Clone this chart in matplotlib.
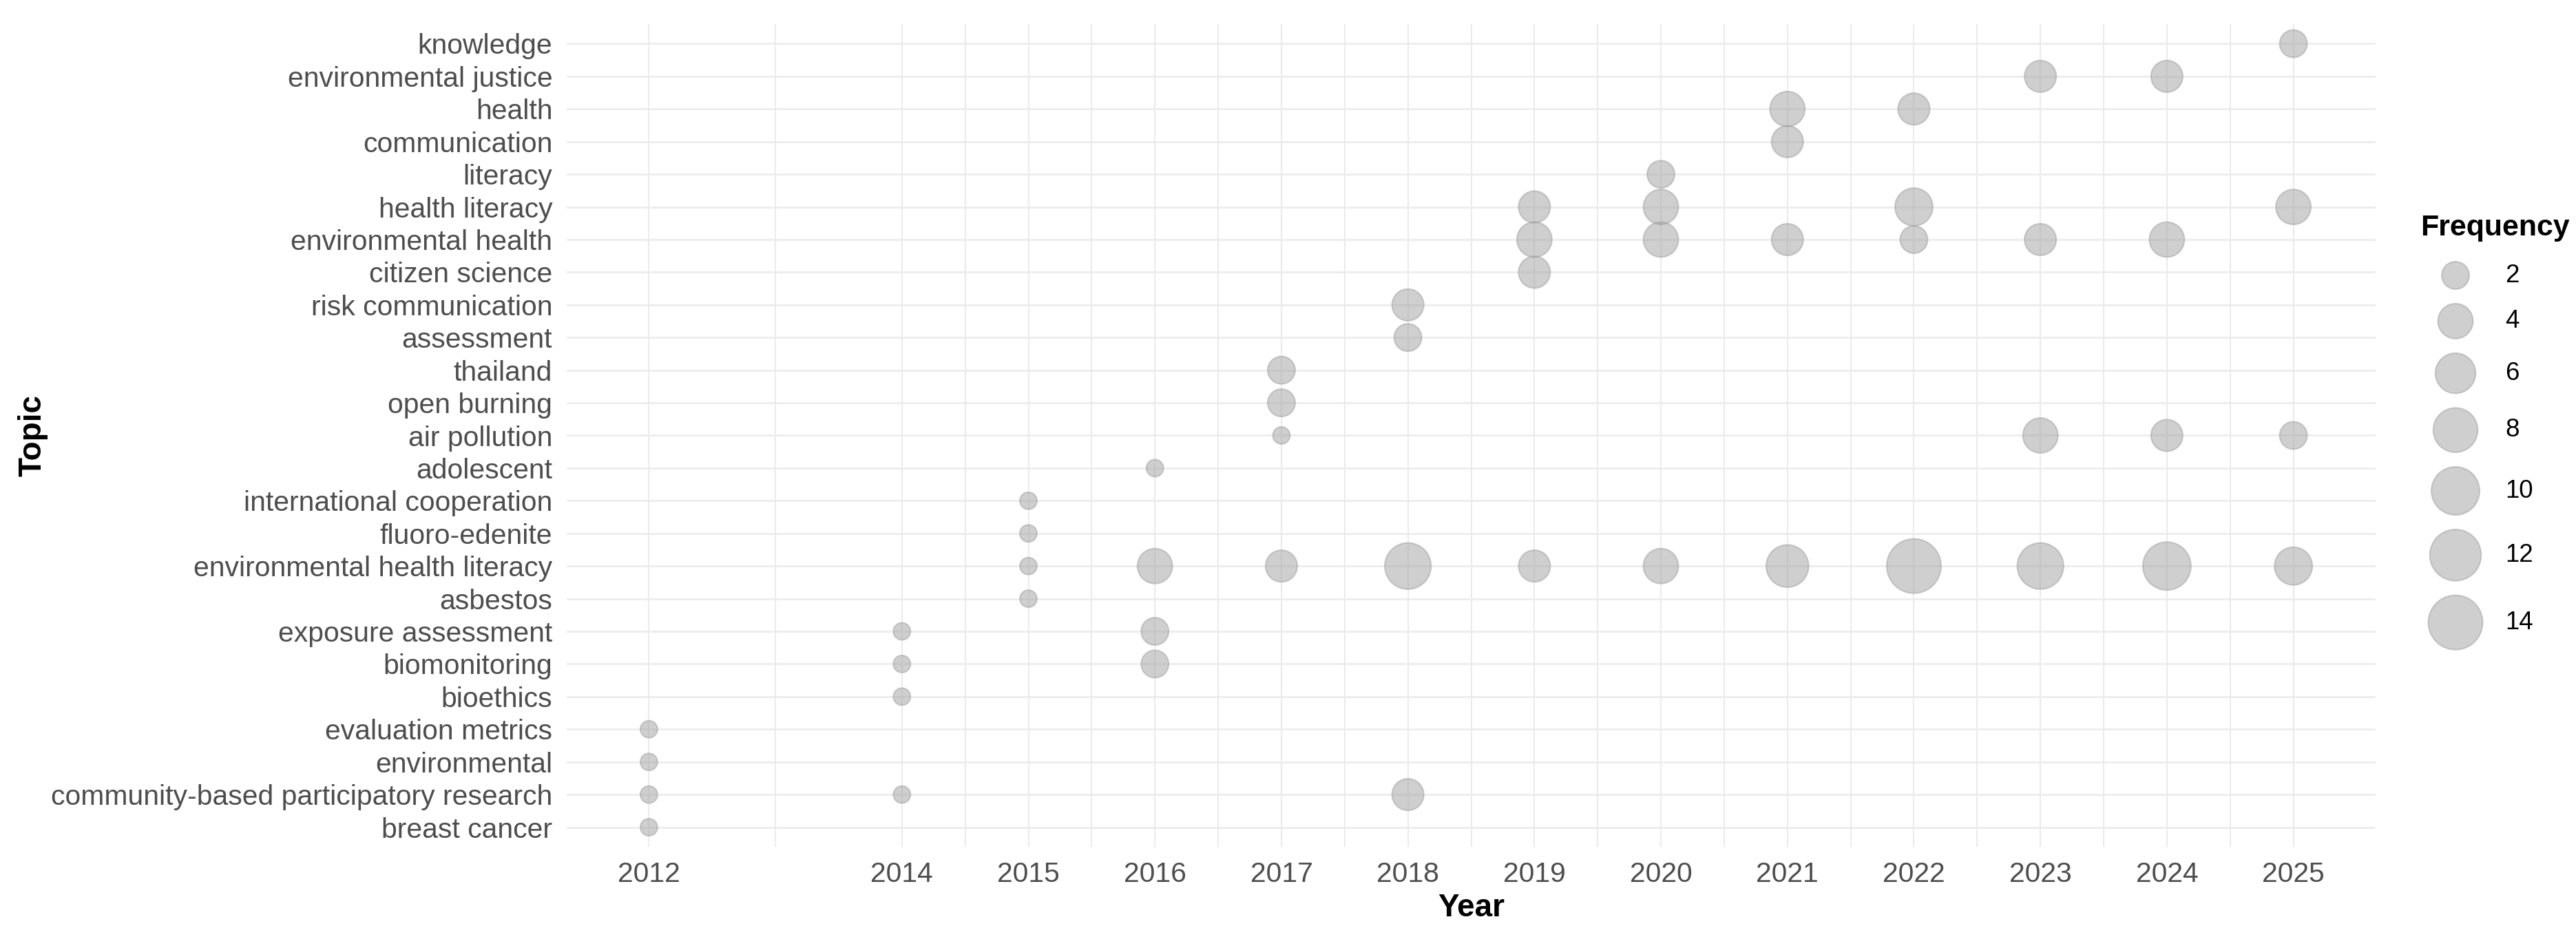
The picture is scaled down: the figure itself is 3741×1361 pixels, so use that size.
import numpy as np
import matplotlib
matplotlib.use("Agg")
import matplotlib.pyplot as plt

plt.rcParams['font.family'] = ['Liberation Sans', 'DejaVu Sans']

# topics, top to bottom as they appear on the y axis
topics = [
    "knowledge", "environmental justice", "health", "communication", "literacy",
    "health literacy", "environmental health", "citizen science", "risk communication",
    "assessment", "thailand", "open burning", "air pollution", "adolescent",
    "international cooperation", "fluoro-edenite", "environmental health literacy",
    "asbestos", "exposure assessment", "biomonitoring", "bioethics",
    "evaluation metrics", "environmental", "community-based participatory research",
    "breast cancer",
]

# one entry per point: topic, year, frequency
pt_topic = [
    "knowledge",
    "environmental justice", "environmental justice",
    "health", "health",
    "communication",
    "literacy",
    "health literacy", "health literacy", "health literacy", "health literacy",
    "environmental health", "environmental health", "environmental health",
    "environmental health", "environmental health", "environmental health",
    "citizen science",
    "risk communication",
    "assessment",
    "thailand",
    "open burning",
    "air pollution", "air pollution", "air pollution", "air pollution",
    "adolescent",
    "international cooperation",
    "fluoro-edenite",
    "environmental health literacy", "environmental health literacy",
    "environmental health literacy", "environmental health literacy",
    "environmental health literacy", "environmental health literacy",
    "environmental health literacy", "environmental health literacy",
    "environmental health literacy", "environmental health literacy",
    "environmental health literacy",
    "asbestos",
    "exposure assessment", "exposure assessment",
    "biomonitoring", "biomonitoring",
    "bioethics",
    "evaluation metrics",
    "environmental",
    "community-based participatory research", "community-based participatory research",
    "community-based participatory research",
    "breast cancer",
]
pt_year = [
    2025,
    2023, 2024,
    2021, 2022,
    2021,
    2020,
    2019, 2020, 2022, 2025,
    2019, 2020, 2021, 2022, 2023, 2024,
    2019,
    2018,
    2018,
    2017,
    2017,
    2017, 2023, 2024, 2025,
    2016,
    2015,
    2015,
    2015, 2016, 2017, 2018, 2019, 2020, 2021, 2022, 2023, 2024, 2025,
    2015,
    2014, 2016,
    2014, 2016,
    2014,
    2012,
    2012,
    2012, 2014, 2018,
    2012,
]
pt_freq = [
    2,
    3, 3,
    4, 3,
    3,
    2,
    3, 4, 5, 4,
    4, 4, 3, 2, 3, 4,
    3,
    3,
    2,
    2,
    2,
    1, 4, 3, 2,
    1,
    1,
    1,
    1, 4, 3, 9, 3, 4, 7, 14, 9, 10, 5,
    1,
    1, 2,
    1, 2,
    1,
    1,
    1,
    1, 1, 3,
    1,
]
year_breaks = [2012, 2014, 2015, 2016, 2017, 2018, 2019, 2020, 2021, 2022, 2023, 2024, 2025]
legend_breaks = [2, 4, 6, 8, 10, 12, 14]

W, H, DPI = 3741, 1361, 300
fill = "#A0A0A0"
ALPHA = 0.5
EDGE_PT = 0.5


def diam_px(v, vmin=1, vmax=14):
    # ggplot-like area scale
    return 27 + 54 * np.sqrt((np.asarray(v, float) - vmin) / (vmax - vmin))


def marker_s(v):
    d_pt = diam_px(v) * 72 / DPI - EDGE_PT
    return d_pt ** 2


fig = plt.figure(figsize=(W / DPI, H / DPI), dpi=DPI)
pl, pr, pt, pb = 823, 3450, 35, 1230
ax = fig.add_axes([pl / W, 1 - pb / H, (pr - pl) / W, (pb - pt) / H])

ypos = [topics.index(t) for t in pt_topic]
ax.scatter(pt_year, ypos, s=marker_s(pt_freq), c=fill, alpha=ALPHA,
           edgecolors=fill, linewidths=EDGE_PT, zorder=3)

ax.set_xlim(2011.35, 2025.65)
ax.set_ylim(len(topics) - 0.4, -0.6)

# grid
minor_x = [(a + b) / 2 for a, b in zip(year_breaks[:-1], year_breaks[1:])]
for x in year_breaks + minor_x:
    ax.axvline(x, color="#EBEBEB", lw=0.5, zorder=0)
for y in range(len(topics)):
    ax.axhline(y, color="#EBEBEB", lw=0.6, zorder=0)

for s in ax.spines.values():
    s.set_visible(False)

ax.set_xticks(year_breaks)
ax.set_xticklabels([str(y) for y in year_breaks])
ax.set_yticks(range(len(topics)))
ax.set_yticklabels(topics)
ax.tick_params(axis="both", length=0, labelsize=9.8, labelcolor="#4D4D4D", pad=5)

ax.set_xlabel("Year", fontsize=11, fontweight="bold", color="black")
ax.xaxis.set_label_coords(0.5, -(1319 - pb) / (pb - pt))
ax.xaxis.label.set_va("center")
ax.set_ylabel("Topic", fontsize=11, fontweight="bold", color="black")
ax.yaxis.set_label_coords(-(pl - 48) / (pr - pl), 0.5)
ax.yaxis.label.set_va("center")

# legend drawn in figure pixel space
lax = fig.add_axes([0, 0, 1, 1], facecolor="none")
lax.set_xlim(0, W)
lax.set_ylim(H, 0)
lax.axis("off")
lax.text(3515, 331, "Frequency", fontsize=10.3, fontweight="bold", va="center", ha="left")
d = diam_px(legend_breaks)
cy = [400]
for i in range(1, len(d)):
    cy.append(cy[-1] + (d[i - 1] + d[i]) / 2 + 19)
lax.scatter([3566] * len(d), cy, s=marker_s(legend_breaks), c=fill, alpha=ALPHA,
            edgecolors=fill, linewidths=EDGE_PT)
for v, y in zip(legend_breaks, cy):
    lax.text(3638, y, str(v), fontsize=8.8, va="center", ha="left", color="black")

fig.savefig("out.png", dpi=DPI, facecolor="white")
